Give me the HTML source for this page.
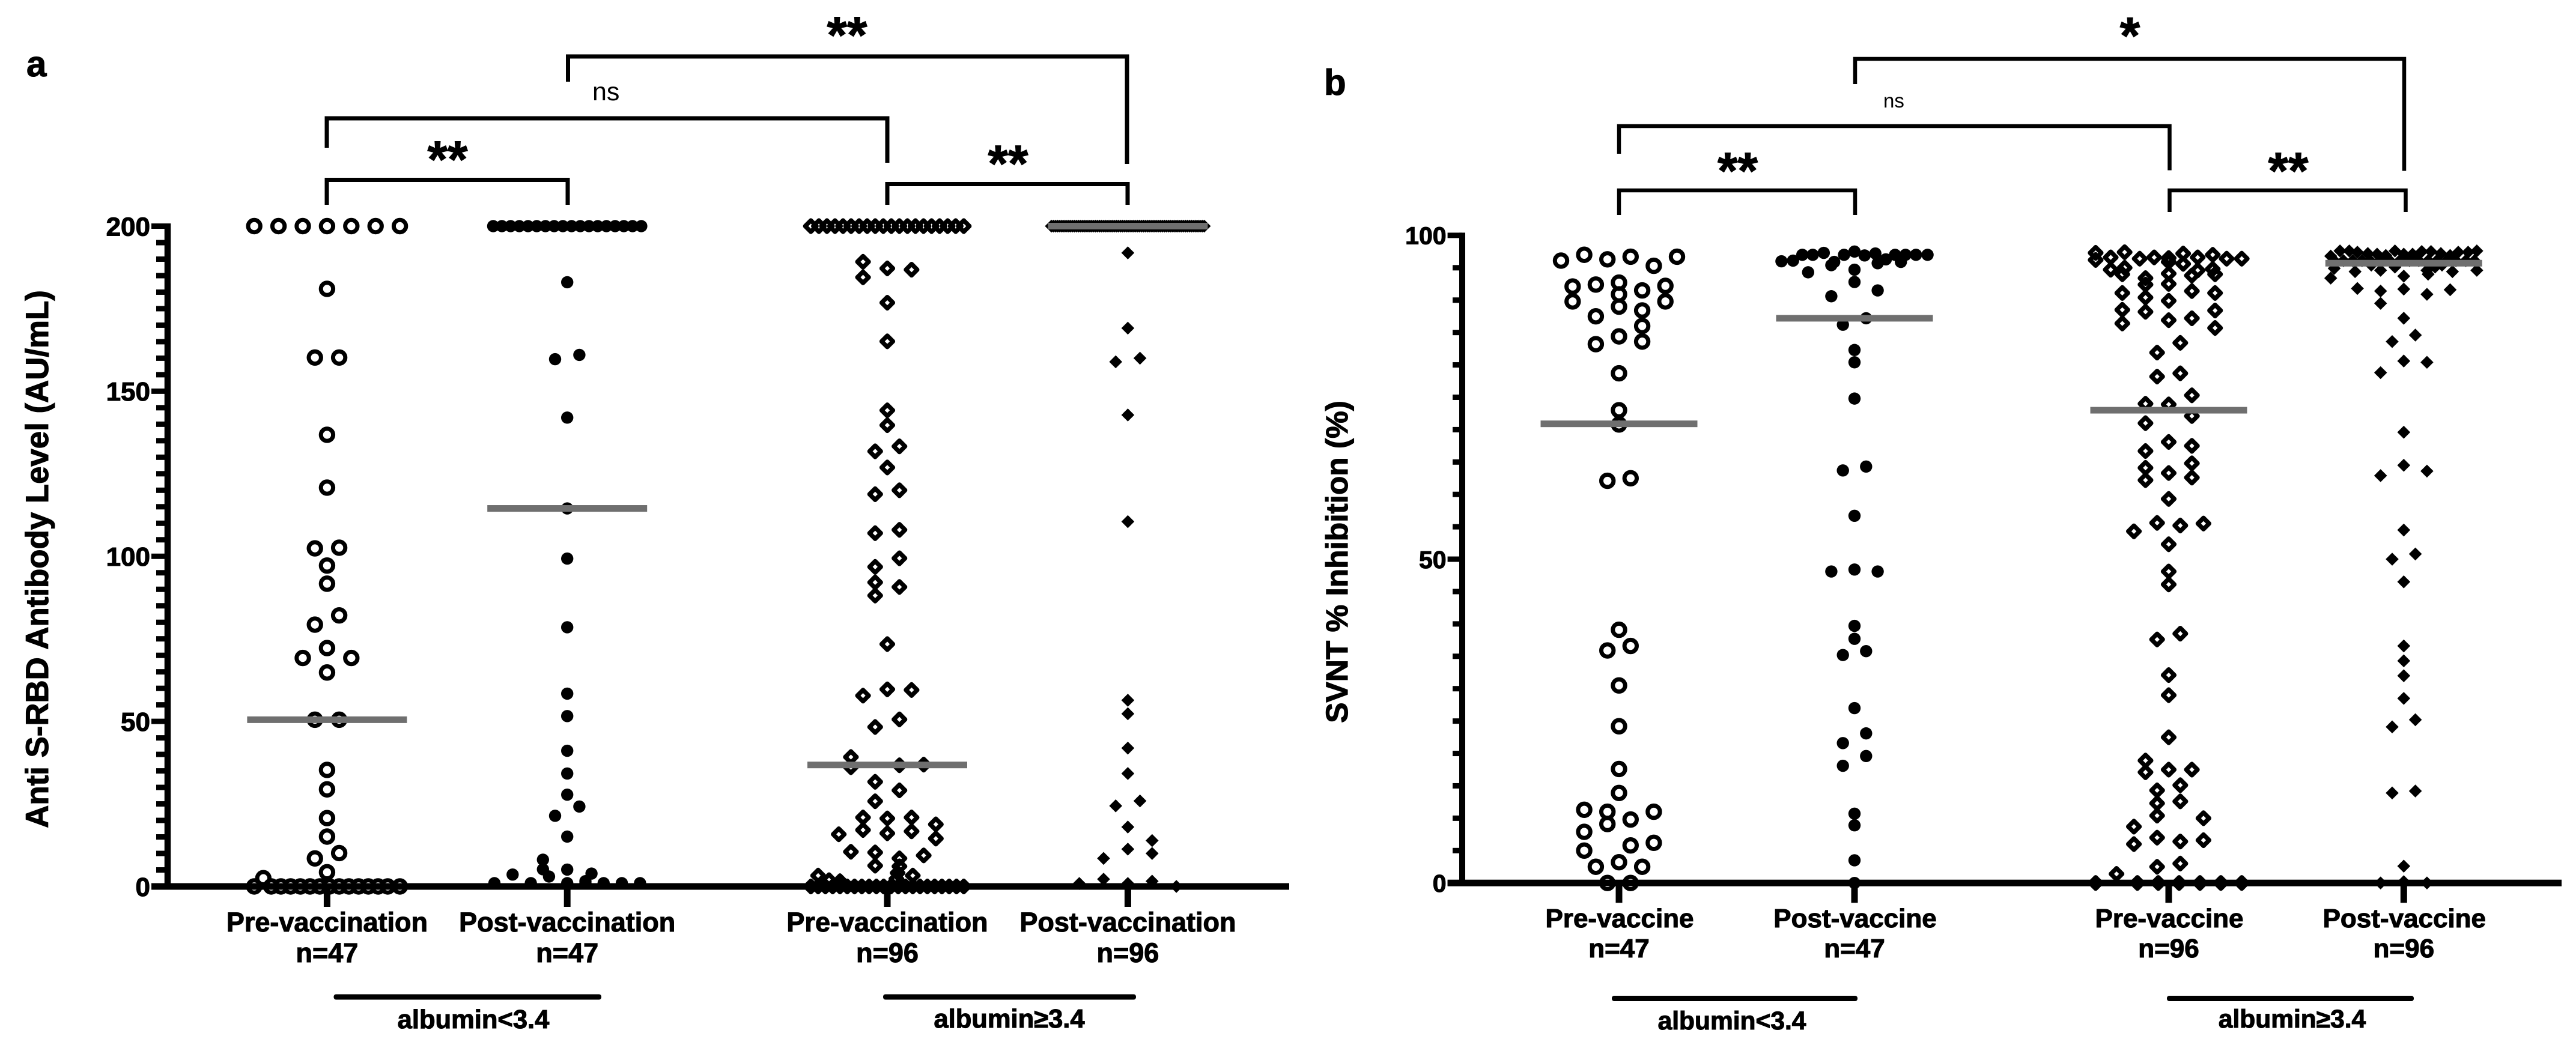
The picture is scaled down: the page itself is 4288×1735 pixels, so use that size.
<!DOCTYPE html>
<html lang="en">
<head>
<meta charset="utf-8">
<title>Anti S-RBD antibody level and SVNT inhibition by albumin group</title>
<style>
html,body{margin:0;padding:0;background:#fff}
svg{display:block}
text{font-family:"Liberation Sans",sans-serif;font-weight:700;fill:#000;stroke:#000;stroke-width:1.1}
.br{fill:none;stroke:#000;stroke-width:7;stroke-linejoin:miter}
</style>
</head>
<body>
<svg id="chart" xmlns="http://www.w3.org/2000/svg" width="4288" height="1735" viewBox="0 0 4288 1735">
  <rect x="0" y="0" width="4288" height="1735" fill="#fff"/>

  <text x="44" y="127" font-size="60">a</text>
  <text x="2204" y="158" font-size="60">b</text>

  <text transform="translate(80,931) rotate(-90)" text-anchor="middle" font-size="52.8">Anti S-RBD Antibody Level (AU/mL)</text>
  <text transform="translate(2243,935.5) rotate(-90)" text-anchor="middle" font-size="51.4">SVNT % Inhibition (%)</text>

  <g id="panelA"></g>
  <g id="panelB"></g>

  <g>
    <path class="br" d="M945.5 136V94H1876V273"/>
    <path class="br" d="M544 246V197H1477V271"/>
    <path class="br" d="M544 341V299.5H945V341"/>
    <path class="br" d="M1477 341V306.5H1877V341"/>
    <text x="1410" y="88" text-anchor="middle" font-size="86">**</text>
    <text x="745" y="295" text-anchor="middle" font-size="86">**</text>
    <text x="1678" y="302" text-anchor="middle" font-size="86">**</text>
    <text x="986" y="167" font-size="43" style="font-weight:400;stroke:none">ns</text>
  </g>

  <g>
    <path class="br" d="M3088 140V98H4002V284.5" style="stroke-width:6.5"/>
    <path class="br" d="M2695 256V210H3611.5V283.5" style="stroke-width:6.5"/>
    <path class="br" d="M2695 358V317H3088V358" style="stroke-width:6.5"/>
    <path class="br" d="M3611.5 353V317H4004.5V353" style="stroke-width:6.5"/>
    <text x="3545.5" y="89" text-anchor="middle" font-size="86">*</text>
    <text x="2892.5" y="314" text-anchor="middle" font-size="86">**</text>
    <text x="3809" y="314" text-anchor="middle" font-size="86">**</text>
    <text x="3135" y="179" font-size="33" style="font-weight:400;stroke:none">ns</text>
  </g>

  <g>
    <rect x="555.5" y="1655.5" width="445.5" height="9" rx="4"/>
    <rect x="1470" y="1655.5" width="421" height="9" rx="4"/>
    <rect x="2683" y="1658" width="409" height="9" rx="4"/>
    <rect x="3607" y="1658" width="411" height="9" rx="4"/>
    <text x="788" y="1712" text-anchor="middle" font-size="43.5">albumin&lt;3.4</text>
    <text x="1680" y="1711" text-anchor="middle" font-size="43.5">albumin≥3.4</text>
    <text x="2883" y="1714" text-anchor="middle" font-size="42.5">albumin&lt;3.4</text>
    <text x="3815.5" y="1711" text-anchor="middle" font-size="42.5">albumin≥3.4</text>
  </g>
</svg>

<script>
// ---------- Panel a: axis data ----------
const aTickLabels = [0, 50, 100, 150, 200];
const aMinorEvery = 5;
const aDomainMax = 200;
const aCategories = ["Pre-vaccination", "Post-vaccination", "Pre-vaccination", "Post-vaccination"];
const aCounts = ["n=47", "n=47", "n=96", "n=96"];
const aMedians = [50.5, 114.5, 36.8, 200];

// ---------- Panel a: series values + beeswarm column of each point ----------
const a1Values = [200,200,200,200,200,200,200,181,160.2,160.2,136.8,120.8,102.4,102.6,97.2,91.7,82.1,79.3,72.2,69.2,69.2,64.8,50.5,50.5,35.3,29.4,20.7,15.1,10.1,8.5,4.3,2.5,0,0,0,0,0,0,0,0,0,0,0,0,0,0,0];
const a1Swarm = [-6,-4,-2,0,2,4,6,0,-1,1,0,0,-1,1,0,0,1,-1,0,-2,2,0,-1,1,0,0,0,0,1,-1,0,-5.25,-6,-4.6,-3.8,-3,-2.2,-1.4,-0.6,0.2,1,1.8,2.6,3.4,4.2,5,6];
const a1Row = [];

const a2Values = [183,161,159.7,142,114.5,99.3,78.5,58.4,51.6,41.1,34.2,27.8,24.2,21.4,15.1,8.1,5.1,5.2,3.9,3,3.6,1.6,1,1,1,1,1,1,1];
const a2Swarm = [0,1,-1,0,0,0,0,0,0,0,0,0,1,-1,0,-2,0,-2,2,-1.5,-4.5,1.5,-6,-3,0,1.5,3,4.5,6];
const a2Row = [200,200,200,200,200,200,200,200,200,200,200,200,200,200,200,200,200,200];

const a3Values = [189.2,184.5,187.2,186.8,176.8,165.1,144.2,139.7,133.3,131.8,126.9,120,118.8,108,107,99.4,96.8,92.1,90.7,88.1,73.4,59.7,59.5,57.8,50.6,48.3,39.2,36.1,36.7,36.9,31.7,29.1,25.8,20.9,20.6,20.9,18.8,17.1,16.1,16.7,15.8,14.5,10.5,10.3,9.4,8.5,6.3,6.1,4.1,3.3,3.3,2.3,1.9,1.6];
const a3Swarm = [-2,-2,0,2,0,0,0,0,1,-1,0,1,-1,1,-1,1,-1,-1,1,-1,0,0,2,-2,1,-1,-3,-3,1,3,-1,1,-1,-2,0,2,4,-2,0,2,-4,4,-3,-1,3,1,-1,1,0.85,-5.7,2.1,0.75,-4.8,-3.9];
const a3Row = [200,200,200,200,200,200,200,200,200,200,200,200,200,200,200,200,200,200,200,200,0,0,0,0,0,0,0,0,0,0,0,0,0,0,0,0,0,0,0,0,0,0];

const a4Values = [191.9,169.1,158.9,160,142.8,110.5,56.4,52.3,41.9,34.2,25.9,24.4,18,13.9,11.3,10,8.5,2.2,0.9,0.9,1.6,0];
const a4Swarm = [0,0,-1,1,0,0,0,0,0,0,1,-1,0,2,0,2,-2,-2,-4,0,2,4];
const a4Row = [200,200,200,200,200,200,200,200,200,200,200,200,200,200,200,200,200,200,200,200,200,200,200,200,200,200,200,200,200,200,200,200,200,200,200,200,200,200,200,200,200,200,200,200,200,200,200,200,200,200,200,200,200,200,200,200,200,200,200,200,200,200,200,200,200,200,200,200,200,200,200,200,200,200];

// ---------- Panel b: axis data ----------
const bTickLabels = [0, 50, 100];
const bMinorEvery = 5;
const bDomainMax = 100;
const bCategories = ["Pre-vaccine", "Post-vaccine", "Pre-vaccine", "Post-vaccine"];
const bCounts = ["n=47", "n=47", "n=96", "n=96"];
const bMedians = [70.9, 87.2, 73.0, 95.7];

// ---------- Panel b: series values + beeswarm column of each point ----------
const b1Values = [96.1,97,96.3,96.7,95.3,96.7,92.1,89.8,92.4,92.7,90.9,89,91.5,92.2,89.8,87.5,88.4,86,84.4,83.2,83.6,78.7,73,70.8,62.1,62.5,39.1,36.6,35.9,30.5,24.2,17.6,13.9,11.3,11,11,9.8,9.1,7.9,6.2,5.8,5,3.2,2.5,2.5,0,0];
const b1Swarm = [-5,-3,-1,1,3,5,-4,-4,-2,0,0,0,2,4,4,-2,2,2,0,-2,2,0,0,0,-1,1,0,1,-1,0,0,0,0,-3,3,-1,1,-1,-3,3,1,-3,0,-2,2,-1,1];

const b2Values = [96,96.1,97,97,97.3,97,97.5,96.9,97.2,96.3,95.7,97,97,97,97,95.9,95.9,95.4,94.3,94.7,92.8,91.5,90.6,87.2,86.2,82.3,80.4,74.8,63.7,64.3,56.7,48.1,48.4,48.1,39.7,37.7,35.8,35.2,27,23.1,21.6,19.6,18.1,10.7,8.9,3.5,0];
const b2Swarm = [-6.3,-5.3,-4.5,-3.6,-2.65,-0.9,0,0.87,1.8,2.7,2,3.5,4.4,5.3,6.3,4,-1.75,-2,-4,0,0,2,-2,1,-1,0,0,0,-1,1,0,-2,0,2,0,0,1,-1,0,1,-1,1,-1,0,0,0,0];

const b3Values = [97.3,96.2,96.6,97.4,96.4,96.6,96.5,95.9,97.2,96.6,97,96.4,96.4,94.7,95,94,95.6,94.6,93.8,94.8,94,93.4,92.4,94.1,92.5,91.4,91.1,91.1,90.4,89.9,88.5,88.4,88.2,86.9,87.2,86.4,85.7,83.4,81.9,78.7,78.2,75.3,74,73.9,72.1,71,68.1,67.5,66.7,64.8,64.1,63.3,62.6,62.2,59.3,54.3,55.6,55.2,55.5,52.3,48.1,46.1,38.5,37.6,32.1,29,22.5,18.9,17.1,17.5,17.5,15.1,14.3,12.3,12.6,10.4,10,8.7,7,6.4,6.6,6,2.5,3,1.4,0,0,0,0,0,0,0];
const b3Swarm = [-6.3,-6.3,-5,-3.8,-2.5,-1.25,0,0,1.25,2.5,3.8,5,6.3,-5,-3.8,-4,1.25,2.5,2,3.8,4,-2,-2,0,0,2,-4,4,-2,0,-4,4,-2,0,2,-4,4,1,-1,1,-1,2,-2,0,2,-2,0,2,-2,2,-2,0,2,-2,0,-3,-1,1,3,0,0,0,1,-1,0,0,0,-2,-2,0,2,1,-1,-1,1,-1,3,-3,-1,1,3,-3,-1,1,-4.5,-6.3,-2.7,-0.9,0.9,2.7,4.5,6.3];

const b4Values = [96.8,97.6,97.6,97.4,97.2,97.1,96.9,97.6,97.1,97.1,97.5,97.5,97.2,96.9,97.4,97.4,97.6,96.1,96.1,96.1,96.1,96.1,96.1,96.1,96.1,96.1,96.1,96.1,96.1,96.1,96.1,96.1,96.1,94.9,95.4,94.6,95.1,94.6,95.1,95.4,94.4,94.6,94.4,93.4,93.7,94,91.8,91.7,91.4,90.9,91.6,89.5,87.2,84.6,83.6,80.6,80.4,78.8,69.6,64.5,63.6,62.9,54.5,50.8,50,46.5,36.6,34.3,32,28.5,25.2,24.1,14.2,13.9,2.6,0,0.2,0];
const b4Swarm = [-6.3,-5.5,-4.7,-4,-3.1,-2.3,-1.55,-0.76,0,0.76,1.55,2.35,3.2,4,4.7,5.55,6.3,-6,-5.2,-4.4,-3.6,-2.9,-2.1,-1.2,-0.35,0.5,1.3,2.1,2.85,3.7,4.5,5.35,6.1,-6,-2.8,-2,-0.76,2,2.7,3.3,4.2,6.3,-4.2,-6.3,0,2.1,-4,0,-2,2,4,-2,0,1,-1,0,2,-2,0,0,2,-2,0,1,-1,0,0,0,0,0,1,-1,1,-1,0,-2,0,2];

// ---------- Drawing ----------
const SVGNS = 'http://www.w3.org/2000/svg';
const GRAY = '#6f6f6f';

function make(parent, tag, attrs) {
  const el = document.createElementNS(SVGNS, tag);
  for (const k in attrs) el.setAttribute(k, attrs[k]);
  parent.appendChild(el);
  return el;
}

function linearY(domainMax, bottom, top) {
  return function (v) { return bottom + (top - bottom) * (v / domainMax); };
}

function drawMarker(parent, kind, cx, cy) {
  let el;
  if (kind === 'open-circle') {
    el = make(parent, 'circle', {cx: cx, cy: cy, r: 10.2, fill: 'none', stroke: '#000', 'stroke-width': 7});
  } else if (kind === 'filled-circle') {
    el = make(parent, 'circle', {cx: cx, cy: cy, r: 10.2, fill: '#000'});
  } else if (kind === 'open-diamond') {
    const d = 9.4;
    el = make(parent, 'path', {d: 'M' + cx + ' ' + (cy - d) + 'L' + (cx + d) + ' ' + cy + 'L' + cx + ' ' + (cy + d) + 'L' + (cx - d) + ' ' + cy + 'Z', fill: 'none', stroke: '#000', 'stroke-width': 7.4, 'stroke-linejoin': 'round'});
  } else {
    const d = 10.8;
    el = make(parent, 'path', {d: 'M' + cx + ' ' + (cy - d) + 'L' + (cx + d) + ' ' + cy + 'L' + cx + ' ' + (cy + d) + 'L' + (cx - d) + ' ' + cy + 'Z', fill: '#000'});
  }
  
  
  return el;
}

function drawSeries(parent, kind, center, slot, y, values, swarm, row, rowHalf) {
  const g = make(parent, 'g', {});
  
  
  values.forEach(function (v, i) {
    drawMarker(g, kind, center + swarm[i] * slot, y(v));
  });
  // Tightly packed rows at one value: spread evenly across the swarm width.
  const byValue = {};
  row.forEach(function (v) { (byValue[v] = byValue[v] || []).push(v); });
  Object.keys(byValue).forEach(function (key) {
    const list = byValue[key];
    list.forEach(function (v, i) {
      const t = list.length > 1 ? i / (list.length - 1) : 0.5;
      drawMarker(g, kind, center + (-rowHalf + 2 * rowHalf * t) * slot, y(v));
    });
  });
}

function drawPanel(cfg) {
  const root = document.getElementById(cfg.root);
  const y = linearY(cfg.domainMax, cfg.yBottom, cfg.yTop);

  const marks = make(root, 'g', {});
  
  
  cfg.series.forEach(function (s, i) {
    drawSeries(marks, s.kind, cfg.centers[i], cfg.slot, y, s.values, s.swarm, s.row, s.rowHalf);
  });

  // y axis
  const yAxis = make(root, 'g', {});
  
  
  const yLine = make(yAxis, 'rect', {x: cfg.axisX - cfg.axisW / 2, y: cfg.yTop - 4.5, width: cfg.axisW, height: cfg.yBottom - cfg.yTop + 9, fill: '#000'});
  
  
  for (let v = 0; v <= cfg.domainMax; v += cfg.minorEvery) {
    const isMajor = cfg.ticks.indexOf(v) >= 0;
    const x0 = isMajor ? cfg.majorX0 : cfg.minorX0;
    const t = make(yAxis, 'rect', {x: x0, y: y(v) - 4.5, width: cfg.axisX - x0, height: 9, fill: '#000'});
    
    
  }
  cfg.ticks.forEach(function (v) {
    const lab = make(yAxis, 'text', {x: cfg.majorX0 - 2, y: y(v) + cfg.tickFont * 0.36, 'text-anchor': 'end', 'font-size': cfg.tickFont});
    lab.textContent = String(v);
    
    
  });

  // x axis
  const xAxis = make(root, 'g', {});
  
  
  const xLine = make(xAxis, 'rect', {x: cfg.majorX0, y: cfg.yBottom - 5.5, width: cfg.xEnd - cfg.majorX0, height: 11, fill: '#000'});
  
  
  cfg.centers.forEach(function (c, i) {
    const t = make(xAxis, 'rect', {x: c - 5.5, y: cfg.yBottom, width: 11, height: cfg.xTickLen, fill: '#000'});
    
    
    const lab = make(xAxis, 'text', {x: c + cfg.labelShift, y: cfg.catBaseline, 'text-anchor': 'middle', 'font-size': cfg.catFont});
    lab.textContent = cfg.categories[i];
    
    
    const n = make(xAxis, 'text', {x: c, y: cfg.countBaseline, 'text-anchor': 'middle', 'font-size': cfg.catFont});
    n.textContent = cfg.counts[i];
    
    
  });

  // median lines drawn last, over the markers
  cfg.medians.forEach(function (m, i) {
    const bar = make(root, 'rect', {x: cfg.centers[i] - cfg.medianHalf, y: y(m) - 5.5, width: cfg.medianHalf * 2, height: 11, fill: GRAY});
    
    
  });
}

drawPanel({
  root: 'panelA', domainMax: aDomainMax, yBottom: 1476, yTop: 376.5,
  ticks: aTickLabels, minorEvery: aMinorEvery, tickFont: 44,
  axisX: 279, axisW: 10.5, majorX0: 252, minorX0: 260, xEnd: 2146, xTickLen: 34,
  centers: [544.4, 944.2, 1477, 1877.4], slot: 20.2, medianHalf: 133,
  categories: aCategories, counts: aCounts, medians: aMedians,
  catFont: 45, catBaseline: 1551, countBaseline: 1602, labelShift: 0,
  series: [
    {kind: 'open-circle', values: a1Values, swarm: a1Swarm, row: a1Row, rowHalf: 6},
    {kind: 'filled-circle', values: a2Values, swarm: a2Swarm, row: a2Row, rowHalf: 6.1},
    {kind: 'open-diamond', values: a3Values, swarm: a3Swarm, row: a3Row, rowHalf: 6.3},
    {kind: 'filled-diamond', values: a4Values, swarm: a4Swarm, row: a4Row, rowHalf: 6.3}
  ]
});

drawPanel({
  root: 'panelB', domainMax: bDomainMax, yBottom: 1470.2, yTop: 391.9,
  ticks: bTickLabels, minorEvery: bMinorEvery, tickFont: 41,
  axisX: 2434, axisW: 10, majorX0: 2409.6, minorX0: 2418, xEnd: 4264, xTickLen: 33,
  centers: [2695, 3087, 3610, 4001.3], slot: 19.3, medianHalf: 130.5,
  categories: bCategories, counts: bCounts, medians: bMedians,
  catFont: 44, catBaseline: 1544, countBaseline: 1594, labelShift: 1,
  series: [
    {kind: 'open-circle', values: b1Values, swarm: b1Swarm, row: [], rowHalf: 0},
    {kind: 'filled-circle', values: b2Values, swarm: b2Swarm, row: [], rowHalf: 0},
    {kind: 'open-diamond', values: b3Values, swarm: b3Swarm, row: [], rowHalf: 0},
    {kind: 'filled-diamond', values: b4Values, swarm: b4Swarm, row: [], rowHalf: 0}
  ]
});
</script>
</body>
</html>
